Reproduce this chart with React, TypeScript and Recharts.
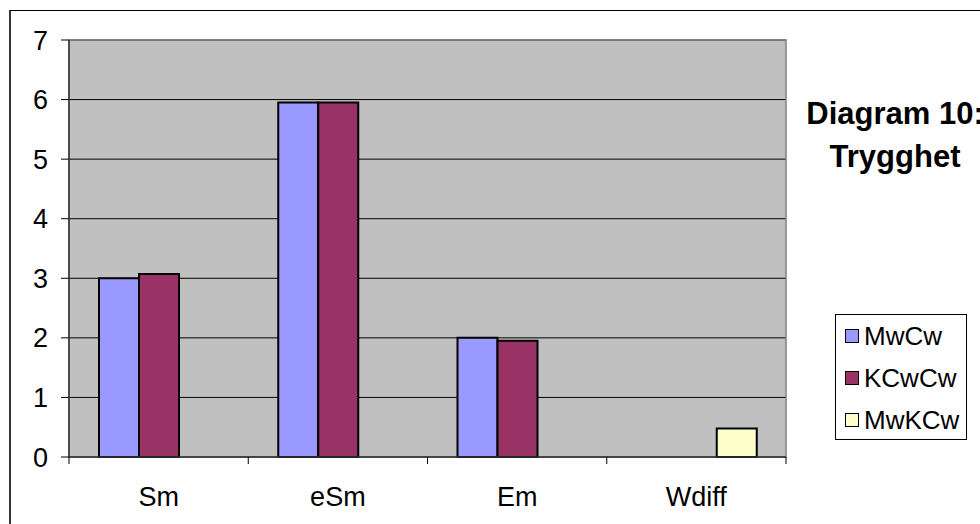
import React from 'react';
import {
  BarChart,
  Bar,
  XAxis,
  YAxis,
  CartesianGrid,
  Legend,
  ReferenceArea,
} from 'recharts';

// Trygghet scores per category and group
const categories = ['Sm', 'eSm', 'Em', 'Wdiff'];
const mwCw = [3.0, 5.95, 2.0, null];
const kcwCw = [3.07, 5.95, 1.95, null];
const mwKcw = [null, null, null, 0.48];
const yTicks = [0, 1, 2, 3, 4, 5, 6, 7];

const series = [
  { key: 'MwCw', values: mwCw, color: '#9999FF' },
  { key: 'KCwCw', values: kcwCw, color: '#993366' },
  { key: 'MwKCw', values: mwKcw, color: '#FFFFCC' },
];

const chartData = categories.map((name, i) => {
  const row: Record<string, any> = { name };
  series.forEach((s) => {
    row[s.key] = s.values[i];
  });
  return row;
});

const W = 980;
const H = 524;
const margin = { top: 40, right: 194, bottom: 0, left: 0 };
const Y_AXIS_W = 69;
const X_AXIS_H = 67;
const FONT = '"Liberation Sans", Arial, sans-serif';
const BAND = (W - Y_AXIS_W - margin.right) / categories.length;

// category label plus the boundary tick marks Excel draws between groups
const CategoryTick = (props: any) => {
  const { x, y, payload, index } = props;
  const half = BAND / 2;
  return (
    <g>
      <line x1={x - half} x2={x - half} y1={y} y2={y + 7} stroke="#000" />
      {index === categories.length - 1 && (
        <line x1={x + half} x2={x + half} y1={y} y2={y + 7} stroke="#000" />
      )}
      <text
        x={x}
        y={y + 40}
        textAnchor="middle"
        dominantBaseline="central"
        fontSize={27}
        fontFamily={FONT}
        fill="#000"
      >
        {payload.value}
      </text>
    </g>
  );
};

const LegendBox = () => (
  <div
    style={{
      border: '1px solid #000',
      background: '#fff',
      width: 132,
      height: 126,
      boxSizing: 'border-box',
      padding: '0 0 0 9px',
      fontFamily: FONT,
      fontSize: 26,
      lineHeight: 1,
    }}
  >
    {series.map((s) => (
      <div key={s.key} style={{ display: 'flex', alignItems: 'center', height: 42 }}>
        <span
          style={{
            width: 14,
            height: 14,
            flex: '0 0 14px',
            background: s.color,
            border: '1.5px solid #000',
            marginRight: 5,
            boxSizing: 'border-box',
          }}
        />
        <span>{s.key}</span>
      </div>
    ))}
  </div>
);

export default function App() {
  return (
    <div
      style={{
        position: 'absolute',
        left: 0,
        top: 0,
        width: W,
        height: H,
        overflow: 'hidden',
        background: '#fff',
      }}
    >
      <div
        style={{
          position: 'absolute',
          left: 9,
          top: 10,
          width: 1100,
          height: 700,
          borderTop: '1px solid #000',
          borderLeft: '2px solid #333',
        }}
      />
      <div style={{ position: 'absolute', left: 0, top: 0 }}>
        <BarChart
          width={W}
          height={H}
          data={chartData}
          margin={margin}
          barCategoryGap={30}
          barGap={0}
        >
          <CartesianGrid vertical={false} stroke="#000" fill="#C0C0C0" fillOpacity={1} />
          <ReferenceArea y1={0} y2={7} fill="none" stroke="#808080" strokeWidth={1.5} ifOverflow="visible" />
          <XAxis
            dataKey="name"
            height={X_AXIS_H}
            axisLine={{ stroke: '#333', strokeWidth: 1.5 }}
            tickLine={false}
            tickSize={0}
            tickMargin={0}
            tick={<CategoryTick />}
            interval={0}
          />
          <YAxis
            width={Y_AXIS_W}
            domain={[0, 7]}
            ticks={yTicks}
            interval={0}
            axisLine={{ stroke: '#333', strokeWidth: 1.5 }}
            tickLine={{ stroke: '#000' }}
            tickSize={8}
            tickMargin={13}
            tick={{ fill: '#000', fontSize: 27, fontFamily: FONT }}
          />
          <Legend
            layout="vertical"
            align="center"
            verticalAlign="middle"
            content={<LegendBox />}
            wrapperStyle={{ left: 835, top: 314, width: 132, height: 126 }}
          />
          {series.map((s) => (
            <Bar
              key={s.key}
              dataKey={s.key}
              name={s.key}
              fill={s.color}
              stroke="#000"
              strokeWidth={2}
              isAnimationActive={false}
            />
          ))}
        </BarChart>
      </div>
      <div
        style={{
          position: 'absolute',
          left: 745,
          top: 92,
          width: 300,
          textAlign: 'center',
          fontFamily: FONT,
          fontWeight: 'bold',
          fontSize: 31,
          lineHeight: '43px',
          color: '#000',
          whiteSpace: 'nowrap',
        }}
      >
        Diagram 10:
        <br />
        Trygghet
      </div>
    </div>
  );
}
